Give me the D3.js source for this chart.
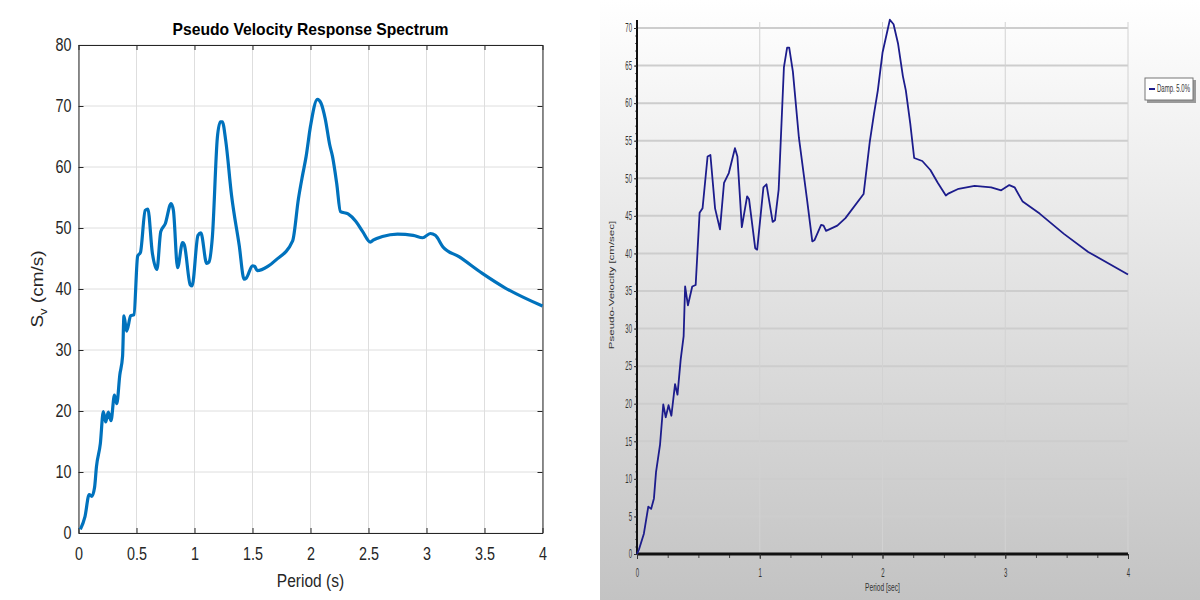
<!DOCTYPE html>
<html><head><meta charset="utf-8">
<script src="https://cdn.jsdelivr.net/npm/d3@7"></script>
<style>html,body{margin:0;padding:0;background:#fff;}svg{display:block;}</style>
</head><body>
<script>
// ---- data ----
const periods = [0, 0.016, 0.056, 0.092, 0.115, 0.138, 0.155, 0.188, 0.214, 0.234, 0.257, 0.28, 0.31, 0.33, 0.356, 0.38, 0.392, 0.415, 0.45, 0.478, 0.51, 0.534, 0.575, 0.598, 0.636, 0.676, 0.709, 0.748, 0.798, 0.818, 0.854, 0.897, 0.913, 0.963, 0.979, 1.03, 1.055, 1.105, 1.124, 1.154, 1.197, 1.223, 1.24, 1.27, 1.319, 1.385, 1.428, 1.447, 1.5, 1.52, 1.54, 1.632, 1.698, 1.846, 1.896, 1.93, 1.962, 2.0, 2.06, 2.09, 2.127, 2.166, 2.19, 2.226, 2.258, 2.324, 2.39, 2.45, 2.516, 2.54, 2.62, 2.75, 2.885, 2.967, 3.033, 3.076, 3.142, 3.28, 3.478, 3.676, 4.0];
const sv = [0, 0.6, 2.7, 6.3, 6.0, 7.4, 10.9, 14.6, 19.9, 18.2, 19.8, 18.4, 22.6, 21.2, 25.9, 29.0, 35.6, 33.1, 35.6, 35.8, 45.4, 46.0, 52.9, 53.1, 46.0, 43.2, 49.4, 50.7, 54.0, 52.9, 43.5, 47.6, 47.2, 40.7, 40.5, 48.8, 49.2, 44.2, 44.4, 48.5, 64.8, 67.4, 67.4, 64.2, 55.4, 47.2, 41.6, 41.8, 43.8, 43.7, 43.0, 43.7, 44.7, 47.9, 54.8, 58.5, 61.7, 66.7, 71.1, 70.5, 67.9, 63.6, 61.7, 57.3, 52.7, 52.3, 51.1, 49.4, 47.7, 48.0, 48.6, 49.0, 48.8, 48.4, 49.1, 48.8, 46.9, 45.3, 42.6, 40.2, 37.2];
const leftXTicks = [0, 0.5, 1, 1.5, 2, 2.5, 3, 3.5, 4];
const leftYTicks = [0, 10, 20, 30, 40, 50, 60, 70, 80];
const rightXTicks = [0, 1, 2, 3, 4];
const rightYTicks = [0, 5, 10, 15, 20, 25, 30, 35, 40, 45, 50, 55, 60, 65, 70];
const leftTitle = "Pseudo Velocity Response Spectrum";
const legendLabel = "Damp. 5.0%";

const points = periods.map((t, i) => ({t, v: sv[i]}));
const FONT = "Liberation Sans, Arial, sans-serif";

// squeeze text horizontally while keeping its anchor position
function squeeze(sel, sx) {
  sel.each(function() {
    const t = d3.select(this);
    const x = +t.attr("x") || 0;
    t.attr("x", x / sx).attr("transform", `scale(${sx},1)`);
  });
}

const svg = d3.select("body").append("svg").attr("width", 1200).attr("height", 600);
const defs = svg.append("defs");

// ================= LEFT (MATLAB style) =================
const L = {x0: 78.5, x1: 542.5, y0: 533, y1: 45};
const lx = d3.scaleLinear().domain([0, 4]).range([L.x0, L.x1]);
const ly = d3.scaleLinear().domain([0, 80]).range([L.y0, L.y1]);
const lg = svg.append("g");
lg.append("rect").attr("x", 0).attr("y", 0).attr("width", 600).attr("height", 600).attr("fill", "#fff");
lg.selectAll("line.gx").data(leftXTicks).join("line")
  .attr("x1", d => lx(d)).attr("x2", d => lx(d)).attr("y1", L.y1).attr("y2", L.y0)
  .attr("stroke", "#dedede").attr("stroke-width", 1);
lg.selectAll("line.gy").data(leftYTicks).join("line")
  .attr("x1", L.x0).attr("x2", L.x1).attr("y1", d => ly(d)).attr("y2", d => ly(d))
  .attr("stroke", "#dedede").attr("stroke-width", 1);
const axB = d3.axisBottom(lx).tickValues(leftXTicks).tickSizeInner(-5).tickSizeOuter(0).tickPadding(15).tickFormat(d3.format("~g"));
const axL = d3.axisLeft(ly).tickValues(leftYTicks).tickSizeInner(-5).tickSizeOuter(0).tickPadding(7).tickFormat(d3.format("~g"));
const axT = d3.axisTop(lx).tickValues(leftXTicks).tickSizeInner(-5).tickSizeOuter(0).tickFormat("");
const axR = d3.axisRight(ly).tickValues(leftYTicks).tickSizeInner(-5).tickSizeOuter(0).tickFormat("");
[[axB, `translate(0,${L.y0})`], [axL, `translate(${L.x0},0)`], [axT, `translate(0,${L.y1})`], [axR, `translate(${L.x1},0)`]]
  .forEach(([ax, tr]) => {
    const g = lg.append("g").attr("transform", tr).call(ax);
    g.select(".domain").attr("stroke", "#262626").attr("stroke-width", 1);
    g.selectAll(".tick line").attr("stroke", "#262626");
    const tx = g.selectAll(".tick text").attr("fill", "#262626").style("font-family", FONT).style("font-size", "17.5px");
    squeeze(tx, 0.82);
  });
lg.append("path").datum(points.filter(p => p.t > 0))
  .attr("fill", "none").attr("stroke", "#0072BD").attr("stroke-width", 3.2).attr("stroke-linejoin", "round")
  .attr("d", d3.line().x(d => lx(d.t)).y(d => ly(d.v)).curve(d3.curveMonotoneX));
lg.append("text").attr("x", (L.x0 + L.x1) / 2).attr("y", 35).attr("text-anchor", "middle")
  .style("font-family", FONT).style("font-size", "17px").style("font-weight", "bold")
  .attr("fill", "#000").attr("textLength", 276).attr("lengthAdjust", "spacingAndGlyphs").text(leftTitle);
const xlab = lg.append("text").attr("x", (L.x0 + L.x1) / 2).attr("y", 587).attr("text-anchor", "middle")
  .style("font-family", FONT).style("font-size", "18.5px").attr("fill", "#262626").text("Period (s)");
squeeze(xlab, 0.84);
const yl = lg.append("text").attr("transform", "translate(43,289) rotate(-90) scale(1,0.85)").attr("text-anchor", "middle")
  .style("font-family", FONT).style("font-size", "19px").attr("fill", "#262626");
yl.append("tspan").text("S");
yl.append("tspan").attr("dy", 5).style("font-size", "13px").text("v");
yl.append("tspan").attr("dy", -5).text(" (cm/s)");

// ================= RIGHT (SeismoSignal style) =================
const bg = defs.append("linearGradient").attr("id", "bgGrad").attr("x1", 0).attr("y1", 0).attr("x2", 0).attr("y2", 1);
bg.append("stop").attr("offset", "0%").attr("stop-color", "#ffffff");
bg.append("stop").attr("offset", "100%").attr("stop-color", "#c3c3c3");
const R = {x0: 637, x1: 1128, y0: 554, y1: 28};
const rx = d3.scaleLinear().domain([0, 4]).range([R.x0, R.x1]);
const ry = d3.scaleLinear().domain([0, 70]).range([R.y0, R.y1]);
const rg = svg.append("g");
rg.append("rect").attr("x", 600).attr("y", 0).attr("width", 600).attr("height", 600).attr("fill", "url(#bgGrad)");
rg.selectAll("line.rgy").data(rightYTicks.filter(d => d > 0)).join("line")
  .attr("x1", R.x0).attr("x2", R.x1).attr("y1", d => ry(d)).attr("y2", d => ry(d))
  .attr("stroke", "#cdcdcd").attr("stroke-width", 2);
rg.selectAll("line.rgx").data(rightXTicks.filter(d => d > 0)).join("line")
  .attr("x1", d => rx(d)).attr("x2", d => rx(d)).attr("y1", 22).attr("y2", R.y0)
  .attr("stroke", "#d2d2d2").attr("stroke-width", 1);
const rxMinor = d3.range(0, 4.001, 0.25);
const ryMinor = d3.range(0, 71, 1);
rg.append("g").attr("transform", `translate(0,${R.y0})`)
  .call(d3.axisBottom(rx).tickValues(rxMinor).tickSize(4).tickFormat(""))
  .call(g => { g.select(".domain").remove(); g.selectAll("line").attr("stroke", "#444"); });
rg.append("g").attr("transform", `translate(${R.x0},0)`)
  .call(d3.axisLeft(ry).tickValues(ryMinor).tickSize(2).tickFormat(""))
  .call(g => { g.select(".domain").remove(); g.selectAll("line").attr("stroke", "#666"); });
const rAxB = rg.append("g").attr("transform", `translate(0,${R.y0})`)
  .call(d3.axisBottom(rx).tickValues(rightXTicks).tickSize(5).tickPadding(9).tickFormat(d3.format("d")));
rAxB.select(".domain").attr("stroke", "#111").attr("stroke-width", 3).attr("d", `M${R.x0},0H${R.x1}`);
const rAxL = rg.append("g").attr("transform", `translate(${R.x0},0)`)
  .call(d3.axisLeft(ry).tickValues(rightYTicks).tickSize(3).tickPadding(2).tickFormat(d3.format("d")));
rAxL.select(".domain").attr("stroke", "#111").attr("stroke-width", 2).attr("d", `M0,20V${R.y0}`);
[rAxB, rAxL].forEach(g => {
  g.selectAll(".tick line").attr("stroke", "#333");
  const tx = g.selectAll(".tick text").attr("fill", "#333").style("font-family", FONT).style("font-size", "12px");
  squeeze(tx, 0.5);
});
rg.append("path").datum(points)
  .attr("fill", "none").attr("stroke", "#1c1c8c").attr("stroke-width", 1.8).attr("stroke-linejoin", "round")
  .attr("d", d3.line().x(d => rx(d.t)).y(d => ry(d.v)));
const rxl = rg.append("text").attr("x", (R.x0 + R.x1) / 2).attr("y", 591).attr("text-anchor", "middle")
  .style("font-family", FONT).style("font-size", "11px").attr("fill", "#333").text("Period [sec]");
squeeze(rxl, 0.6);
rg.append("text").attr("transform", "translate(614,285) rotate(-90) scale(1,0.6)").attr("text-anchor", "middle")
  .style("font-family", FONT).style("font-size", "11.5px").attr("fill", "#333").text("Pseudo-Velocity [cm/sec]");
const leg = rg.append("g").attr("transform", "translate(1145,78)");
leg.append("rect").attr("x", 2).attr("y", 2).attr("width", 49).attr("height", 23).attr("fill", "#9a9a9a");
leg.append("rect").attr("x", 0).attr("y", 0).attr("width", 48).attr("height", 22).attr("fill", "#fff").attr("stroke", "#777").attr("stroke-width", 1);
leg.append("line").attr("x1", 4).attr("x2", 10).attr("y1", 11).attr("y2", 11).attr("stroke", "#1c1c8c").attr("stroke-width", 2);
const lt = leg.append("text").attr("x", 12).attr("y", 14.5).style("font-family", FONT).style("font-size", "10px")
  .attr("fill", "#333").text(legendLabel);
squeeze(lt, 0.6);
</script>
</body></html>
